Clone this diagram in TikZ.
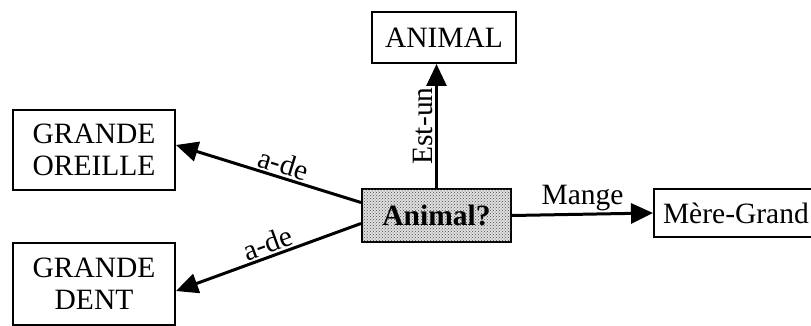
\documentclass[tikz,border=0pt]{standalone}
\usepackage{fontspec}
\setmainfont{Liberation Serif}
\usetikzlibrary{arrows.meta,patterns}
\begin{document}
\begin{tikzpicture}[x=1pt,y=-1pt,
  every node/.style={font=\fontsize{29.5}{32}\selectfont},
  box/.style={draw=black, line width=2pt, fill=white, inner sep=0pt, align=center},
  query/.style={box, fill=black!12, postaction={pattern=crosshatch dots, pattern color=black!70},
                font=\fontsize{29.5}{32}\selectfont\bfseries},
  rel/.style={line width=3pt, -{Triangle[length=22pt,width=20pt]}},
  relback/.style={line width=3pt, {Triangle[length=22pt,width=20pt]}-},
  lbl/.style={inner sep=2pt}]
  \useasboundingbox (0,0) rectangle (811,326);
  \clip (0,0) rectangle (811,326);

  % concept boxes
  \node[box, minimum width=144pt, minimum height=51pt] (animal) at (444,37.5) {ANIMAL};
  \node[box, minimum width=162pt, minimum height=80pt] (oreille) at (94,150) {GRANDE\\OREILLE};
  \node[box, minimum width=162pt, minimum height=82pt] (dent) at (94,284) {GRANDE\\DENT};
  \node[query, minimum width=149pt, minimum height=53pt] (q) at (436.5,215.5) {Animal?};
  \node[box, anchor=west, minimum height=48pt, text width=155pt, align=left, inner xsep=9pt]
       (mere) at (653,213) {Mère-Grand};

  % relations
  \draw[rel] (q.north) -- node[lbl, sloped, above] {Est-un} (q.north |- animal.south);
  \draw[rel] (q.east) -- node[lbl, above] {Mange} (mere.west);
  \draw[relback] ([yshift=5pt]oreille.east) -- node[lbl, sloped, above, pos=0.56] {a-de} ([yshift=13pt]q.west);
  \draw[relback] ([yshift=-7pt]dent.east) -- node[lbl, sloped, above, pos=0.52] {a-de} ([yshift=-8pt]q.west);
\end{tikzpicture}
\end{document}
